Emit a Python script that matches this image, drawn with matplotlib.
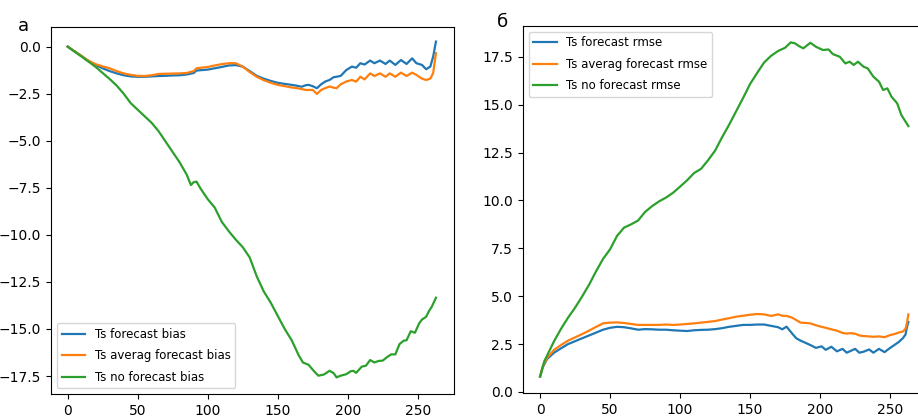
import matplotlib
matplotlib.use("Agg")
import matplotlib.pyplot as plt

# ---------------- Panel a: bias ----------------
x_bias = [0, 5, 10, 15, 20, 25, 30, 35, 40, 45, 50, 55, 60, 65, 70, 75, 80, 85, 90, 92, 95,
          100, 105, 110, 115, 120, 125, 130, 135, 140, 145, 150, 155, 160, 164, 167, 170, 172,
          175, 178, 181, 184, 187, 190, 192, 195, 199, 203, 206, 209, 212, 216, 219, 223, 227,
          230, 234, 238, 242, 246, 249, 253, 256, 259, 261, 263]
ts_forecast_bias = [0, -0.25, -0.5, -0.78, -0.98, -1.15, -1.3, -1.42, -1.52, -1.58, -1.6, -1.6,
                    -1.58, -1.56, -1.55, -1.53, -1.52, -1.48, -1.4, -1.27, -1.25, -1.22, -1.15,
                    -1.08, -1.0, -0.98, -1.06, -1.3, -1.55, -1.7, -1.82, -1.92, -1.98, -2.03,
                    -2.08, -2.13, -2.05, -2.03, -2.1, -2.21, -2.0, -1.85, -1.77, -1.62, -1.6,
                    -1.55, -1.24, -1.06, -1.12, -0.88, -0.95, -0.74, -0.88, -0.74, -0.92, -0.74,
                    -0.97, -0.71, -0.92, -0.62, -0.88, -0.97, -1.2, -1.06, -0.53, 0.27]
ts_averag_bias = [0, -0.25, -0.5, -0.75, -0.93, -1.05, -1.15, -1.3, -1.42, -1.5, -1.55, -1.56,
                  -1.52, -1.45, -1.44, -1.43, -1.42, -1.4, -1.3, -1.15, -1.12, -1.08, -1.0,
                  -0.93, -0.88, -0.88, -1.06, -1.35, -1.6, -1.78, -1.92, -2.03, -2.1, -2.17,
                  -2.21, -2.25, -2.3, -2.3, -2.3, -2.51, -2.3, -2.2, -2.12, -2.18, -2.21, -2.0,
                  -1.85, -1.77, -1.86, -1.6, -1.74, -1.42, -1.56, -1.42, -1.6, -1.42, -1.6,
                  -1.38, -1.56, -1.38, -1.5, -1.7, -1.77, -1.7, -1.4, -0.35]

x_nobias = [0, 5, 10, 15, 20, 25, 30, 35, 40, 45, 50, 55, 60, 65, 70, 75, 80, 85, 88, 90, 92,
            95, 100, 105, 110, 115, 120, 125, 130, 135, 140, 145, 150, 155, 160, 165, 168, 172,
            176, 179, 183, 187, 190, 192, 195, 199, 202, 204, 206, 210, 213, 216, 219, 222, 225,
            228, 231, 234, 237, 240, 242, 245, 248, 251, 253, 256, 258, 260, 263]
ts_no_forecast_bias = [0, -0.27, -0.53, -0.8, -1.08, -1.4, -1.72, -2.07, -2.5, -3.0, -3.35, -3.7,
                       -4.05, -4.5, -5.05, -5.6, -6.15, -6.8, -7.35, -7.2, -7.17, -7.55, -8.1,
                       -8.55, -9.3, -9.8, -10.25, -10.65, -11.2, -12.2, -13.0, -13.6, -14.3,
                       -15.0, -15.6, -16.4, -16.78, -16.9, -17.25, -17.48, -17.42, -17.22, -17.35,
                       -17.57, -17.48, -17.4, -17.25, -17.22, -17.33, -17.0, -16.95, -16.65,
                       -16.78, -16.7, -16.68, -16.5, -16.35, -16.35, -15.8, -15.62, -15.6, -15.12,
                       -15.2, -14.7, -14.5, -14.35, -14.05, -13.82, -13.34]

# ---------------- Panel б: rmse ----------------
x_rmse = [0, 2, 5, 10, 15, 20, 25, 30, 35, 40, 45, 50, 55, 60, 65, 70, 75, 80, 85, 90, 95, 100,
          105, 110, 115, 120, 125, 130, 135, 140, 145, 150, 155, 160, 165, 170, 173, 176, 180,
          183, 186, 190, 193, 197, 201, 204, 208, 212, 216, 219, 222, 225, 228, 231, 235, 238,
          242, 246, 250, 253, 256, 259, 261, 262, 263]
ts_forecast_rmse = [0.8, 1.3, 1.72, 2.05, 2.28, 2.5, 2.65, 2.8, 2.95, 3.1, 3.25, 3.35, 3.4, 3.38,
                    3.32, 3.25, 3.28, 3.27, 3.25, 3.25, 3.22, 3.2, 3.18, 3.22, 3.24, 3.25, 3.28,
                    3.33, 3.4, 3.45, 3.5, 3.5, 3.52, 3.52, 3.45, 3.38, 3.27, 3.41, 3.05, 2.8,
                    2.68, 2.55, 2.45, 2.3, 2.38, 2.2, 2.36, 2.12, 2.25, 2.05, 2.15, 2.25, 2.05,
                    2.1, 2.22, 2.05, 2.25, 2.08, 2.3, 2.45, 2.6, 2.8, 3.0, 3.4, 3.65]
ts_averag_rmse = [0.8, 1.35, 1.78, 2.2, 2.45, 2.68, 2.85, 3.02, 3.2, 3.4, 3.58, 3.62, 3.63, 3.6,
                  3.55, 3.5, 3.5, 3.5, 3.5, 3.52, 3.5, 3.52, 3.55, 3.58, 3.62, 3.66, 3.7, 3.78,
                  3.85, 3.93, 3.98, 4.03, 4.07, 4.05, 3.97, 4.05, 3.98, 3.97, 3.88, 3.75, 3.62,
                  3.6, 3.58, 3.48, 3.4, 3.35, 3.27, 3.2, 3.08, 3.05, 3.07, 3.04, 2.95, 2.92, 2.9,
                  2.88, 2.9, 2.86, 2.97, 3.02, 3.1, 3.15, 3.3, 3.6, 4.05]

x_normse = [0, 3, 6, 10, 15, 20, 25, 30, 35, 40, 45, 50, 55, 60, 65, 70, 75, 80, 85, 90, 95, 100,
            105, 110, 115, 120, 125, 130, 135, 140, 145, 150, 155, 160, 165, 170, 175, 179, 182,
            185, 188, 193, 197, 202, 206, 209, 214, 218, 221, 224, 227, 231, 234, 238, 242, 245,
            248, 251, 255, 258, 261, 263]
ts_no_forecast_rmse = [0.8, 1.6, 2.05, 2.65, 3.3, 3.88, 4.4, 4.98, 5.6, 6.3, 6.95, 7.45, 8.15,
                       8.58, 8.75, 8.95, 9.4, 9.7, 9.95, 10.15, 10.4, 10.72, 11.05, 11.43, 11.65,
                       12.1, 12.6, 13.3, 13.95, 14.65, 15.35, 16.08, 16.65, 17.2, 17.55, 17.8,
                       17.97, 18.25, 18.2, 18.05, 17.94, 18.23, 18.02, 17.85, 17.88, 17.64, 17.5,
                       17.15, 17.24, 17.07, 17.24, 16.98, 16.89, 16.46, 16.2, 15.76, 15.85, 15.41,
                       15.07, 14.46, 14.11, 13.88]

labels_bias = ["Ts forecast bias", "Ts averag forecast bias", "Ts no forecast bias"]
labels_rmse = ["Ts forecast rmse", "Ts averag forecast rmse", "Ts no forecast rmse"]
panel_letters = ["a", "б"]

C_BLUE, C_ORANGE, C_GREEN = "#1f77b4", "#ff7f0e", "#2ca02c"

fig = plt.figure(figsize=(9.18, 4.17), dpi=100)

ax1 = fig.add_axes([51 / 918, 1 - 394.3 / 417, (454.3 - 51) / 918, (394.3 - 26.7) / 417])
ax1.plot(x_bias, ts_forecast_bias, color=C_BLUE, lw=1.6, label=labels_bias[0])
ax1.plot(x_bias, ts_averag_bias, color=C_ORANGE, lw=1.6, label=labels_bias[1])
ax1.plot(x_nobias, ts_no_forecast_bias, color=C_GREEN, lw=1.6, label=labels_bias[2])
ax1.set_xlim(-11.9, 276.1)
ax1.set_ylim(-18.47, 1.06)
ax1.set_xticks([0, 50, 100, 150, 200, 250])
ax1.set_yticks([0.0, -2.5, -5.0, -7.5, -10.0, -12.5, -15.0, -17.5])
ax1.legend(loc="lower left", fontsize=8.5, labelspacing=0.72)

ax2 = fig.add_axes([522.7 / 918, 1 - 393.3 / 417, (926 - 522.7) / 918, (393.3 - 25.7) / 417])
ax2.plot(x_rmse, ts_forecast_rmse, color=C_BLUE, lw=1.6, label=labels_rmse[0])
ax2.plot(x_rmse, ts_averag_rmse, color=C_ORANGE, lw=1.6, label=labels_rmse[1])
ax2.plot(x_normse, ts_no_forecast_rmse, color=C_GREEN, lw=1.6, label=labels_rmse[2])
ax2.set_xlim(-12.4, 275.6)
ax2.set_ylim(-0.07, 19.12)
ax2.set_xticks([0, 50, 100, 150, 200, 250])
ax2.set_yticks([0.0, 2.5, 5.0, 7.5, 10.0, 12.5, 15.0, 17.5])
ax2.legend(loc="upper left", fontsize=8.5, labelspacing=0.72)

fig.text(18 / 918, 1 - 31 / 417, panel_letters[0], fontsize=13, va="baseline", ha="left")
fig.text(497 / 918, 1 - 27 / 417, panel_letters[1], fontsize=13, va="baseline", ha="left")

fig.savefig("out.png", dpi=100)
